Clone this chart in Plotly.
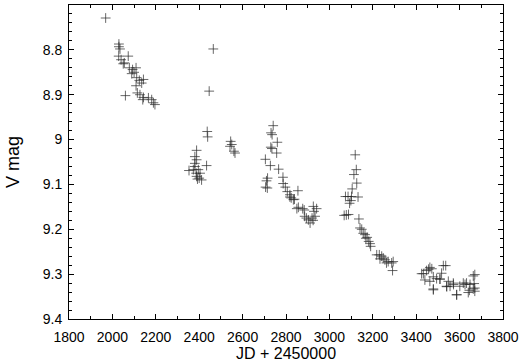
import plotly.graph_objects as go

jd = [1969, 2030, 2030, 2035, 2029, 2073, 2050, 2055, 2078, 2093, 2109, 2089, 2112, 2143, 2124,
      2109, 2135, 2115, 2127, 2143, 2140, 2166, 2181, 2189, 2196, 2060, 2040, 2100,
      2465, 2446, 2437, 2439, 2434, 2388, 2380, 2380, 2373, 2353, 2396, 2404, 2388, 2400, 2411,
      2386, 2380, 2388, 2392,
      2545, 2550, 2542, 2565, 2560,
      2741, 2731, 2736, 2760, 2730, 2735, 2757, 2705, 2728, 2766, 2715, 2710, 2706, 2714, 2786,
      2787, 2797, 2806, 2818, 2855, 2824, 2839, 2818, 2834, 2857, 2850, 2877, 2884, 2926, 2941,
      2929, 2894, 2903, 2911, 2925, 2934, 2920, 2886,
      3119, 3124, 3113, 3126, 3105, 3074, 3086, 3102, 3132, 3099, 3093, 3068, 3078, 3088, 3136,
      3141, 3149, 3156, 3164, 3168, 3174, 3181, 3187, 3190, 3230,
      3218, 3241, 3233, 3256, 3271, 3287, 3294, 3291, 3263, 3248,
      3425, 3448, 3463, 3440, 3479, 3479, 3494, 3509, 3517, 3525, 3548, 3556, 3571, 3586, 3601,
      3617, 3632, 3648, 3663, 3663, 3670, 3640, 3670, 3540, 3463,
      3433, 3457, 3472, 3536, 3479, 3510, 3541, 3572, 3587, 3670, 3667, 3645, 3625]

vmag = [8.729, 8.787, 8.793, 8.798, 8.814, 8.814, 8.831, 8.829, 8.840, 8.844, 8.840, 8.853, 8.862, 8.866, 8.868,
        8.880, 8.874, 8.896, 8.900, 8.906, 8.911, 8.907, 8.911, 8.918, 8.922, 8.902, 8.822, 8.850,
        8.798, 8.892, 8.982, 8.994, 9.058, 9.024, 9.038, 9.053, 9.067, 9.069, 9.067, 9.075, 9.082, 9.086, 9.090,
        9.075, 9.060, 9.045, 9.088,
        9.004, 9.011, 9.015, 9.030, 9.026,
        8.969, 8.985, 8.989, 9.006, 9.017, 9.020, 9.030, 9.044, 9.058, 9.066, 9.086, 9.092, 9.106, 9.108, 9.084,
        9.098, 9.106, 9.116, 9.123, 9.114, 9.130, 9.133, 9.128, 9.134, 9.151, 9.154, 9.154, 9.157, 9.149, 9.154,
        9.160, 9.175, 9.179, 9.186, 9.180, 9.171, 9.175, 9.171,
        9.034, 9.067, 9.078, 9.097, 9.110, 9.127, 9.127, 9.127, 9.128, 9.136, 9.142, 9.169, 9.168, 9.167, 9.177,
        9.197, 9.200, 9.209, 9.212, 9.220, 9.218, 9.227, 9.232, 9.238, 9.257,
        9.257, 9.260, 9.266, 9.268, 9.272, 9.275, 9.272, 9.292, 9.275, 9.264,
        9.299, 9.292, 9.285, 9.313, 9.333, 9.306, 9.310, 9.311, 9.298, 9.281, 9.316, 9.327, 9.320, 9.346, 9.327,
        9.320, 9.320, 9.323, 9.304, 9.333, 9.338, 9.341, 9.331, 9.327, 9.316,
        9.299, 9.289, 9.288, 9.281, 9.335, 9.311, 9.328, 9.323, 9.346, 9.301, 9.321, 9.336, 9.323]

x_ticks = [1800, 2000, 2200, 2400, 2600, 2800, 3000, 3200, 3400, 3600, 3800]
y_ticks = [8.7, 8.8, 8.9, 9.0, 9.1, 9.2, 9.3, 9.4]
y_labels = ["8.7", "8.8", "8.9", "9", "9.1", "9.2", "9.3", "9.4"]

FONT = "Liberation Sans, Arial, sans-serif"

fig = go.Figure()
fig.add_trace(go.Scatter(
    x=jd, y=vmag, mode="markers",
    marker=dict(symbol="cross-thin", size=7, line=dict(width=1, color="rgba(40,40,40,0.7)")),
    showlegend=False,
))

axis_common = dict(
    showline=True, linecolor="black", linewidth=1, mirror="ticks",
    ticks="inside", ticklen=5, tickcolor="black", tickwidth=1,
    showgrid=False, zeroline=False, automargin=False,
    tickfont=dict(family=FONT, size=14, color="black"),
)

fig.update_xaxes(
    range=[1800, 3800], tickvals=x_ticks, ticktext=[str(v) for v in x_ticks],
    minor=dict(ticks="inside", ticklen=3, dtick=100, tick0=1800, tickcolor="black", showgrid=False),
    ticklabelstandoff=5,
    title=dict(text="JD + 2450000", font=dict(family=FONT, size=16, color="black"), standoff=4),
    **axis_common,
)
fig.update_yaxes(
    range=[9.4, 8.7], tickvals=y_ticks, ticktext=y_labels,
    minor=dict(ticks="inside", ticklen=3, dtick=0.02, tick0=8.7, tickcolor="black", showgrid=False),
    ticklabelstandoff=3,
    title=dict(text="V mag", font=dict(family=FONT, size=18, color="black"), standoff=18),
    **axis_common,
)

fig.update_layout(
    width=523, height=362,
    margin=dict(l=69, r=20, t=5, b=43),
    plot_bgcolor="white", paper_bgcolor="white",
)

fig.write_html("out.html", config={"displayModeBar": False},
               post_script="document.body.style.margin='0';document.body.style.overflow='hidden';")
